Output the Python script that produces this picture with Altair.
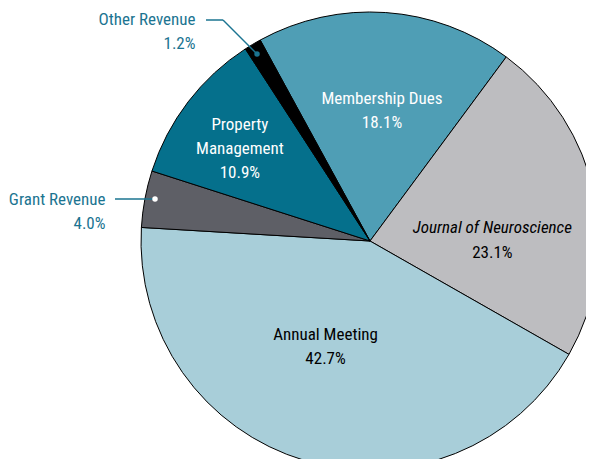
import altair as alt
import pandas as pd
import math

categories = ["Membership Dues", "Journal of Neuroscience", "Annual Meeting",
              "Grant Revenue", "Property Management", "Other Revenue"]
values = [18.1, 23.1, 42.7, 4.0, 10.9, 1.2]
colors = ["#4f9eb5", "#bdbdc0", "#a8ced9", "#5e5f66", "#05708c", "#000000"]
display = ["Membership Dues", "Journal of Neuroscience", "Annual Meeting",
           "Grant Revenue", "Property\nManagement", "Other Revenue"]

df = pd.DataFrame({
    "idx": list(range(len(categories))),
    "cat": categories,
    "value": values,
    "disp": display,
})

FONT = "Roboto Condensed"
TEAL = "#1b7491"
CX, CY, R = 362, 233, 229
START = -0.5

theta_scale = alt.Scale(domain=[0, 100], range=[START, START + 2 * math.pi])

base = (
    alt.Chart(df)
    .transform_window(cum="sum(value)", sort=[alt.SortField("idx")])
    .transform_calculate(
        start="datum.cum - datum.value",
        mid="datum.cum - datum.value / 2",
        pct="format(datum.value, '.1f') + '%'",
        full="datum.disp + '\\n' + format(datum.value, '.1f') + '%'",
    )
)

pie = base.mark_arc(outerRadius=R, stroke="#000000", strokeWidth=1).encode(
    theta=alt.Theta("start:Q", scale=theta_scale),
    theta2="cum:Q",
    color=alt.Color("cat:N", scale=alt.Scale(domain=categories, range=colors), legend=None),
    x=alt.value(CX),
    y=alt.value(CY),
)


def label(cat, text_field, radius, dx=0, dy=0, color="black", align="center",
          style="normal"):
    return (
        base.transform_filter(alt.datum.cat == cat)
        .mark_text(radius=radius, dx=dx, dy=dy, color=color, align=align,
                   baseline="middle", font=FONT, fontSize=17, lineBreak="\n",
                   lineHeight=24, fontStyle=style)
        .encode(
            theta=alt.Theta("mid:Q", scale=theta_scale),
            text=f"{text_field}:N",
            x=alt.value(CX),
            y=alt.value(CY),
        )
    )


labels = [
    label("Membership Dues", "full", 131, dx=3, dy=-11, color="white"),
    label("Journal of Neuroscience", "disp", 122, dx=3, dy=12, style="italic"),
    label("Journal of Neuroscience", "pct", 122, dx=3, dy=37),
    label("Annual Meeting", "full", 114, dx=-12, dy=-15),
    label("Property Management", "full", 160, dx=-3, dy=-19, color="white"),
    label("Other Revenue", "full", 245, dx=-49, dy=-11, color=TEAL, align="right"),
    label("Grant Revenue", "full", 265, dx=-4, dy=8, color=TEAL, align="right"),
]

one = alt.Data(values=[{"a": 1}])
rules = [
    alt.Chart(one).mark_rule(color=TEAL, strokeWidth=1.5).encode(
        x=alt.value(198), x2=alt.value(215), y=alt.value(12), y2=alt.value(12)),
    alt.Chart(one).mark_rule(color=TEAL, strokeWidth=1.5).encode(
        x=alt.value(215), x2=alt.value(249), y=alt.value(12), y2=alt.value(46)),
    alt.Chart(one).mark_rule(color=TEAL, strokeWidth=1.5).encode(
        x=alt.value(107), x2=alt.value(147), y=alt.value(191), y2=alt.value(191)),
    alt.Chart(one).mark_circle(color=TEAL, opacity=1, size=30).encode(
        x=alt.value(249), y=alt.value(46)),
    alt.Chart(one).mark_circle(color="white", opacity=1, size=30).encode(
        x=alt.value(147), y=alt.value(191)),
]

chart = (
    alt.layer(pie, *labels, *rules)
    .properties(width=578, height=451, padding=0,
                autosize=alt.AutoSizeParams(type="none"))
    .configure_view(stroke=None)
)

chart.save("out.html", embed_options={"renderer": "svg", "actions": False})
